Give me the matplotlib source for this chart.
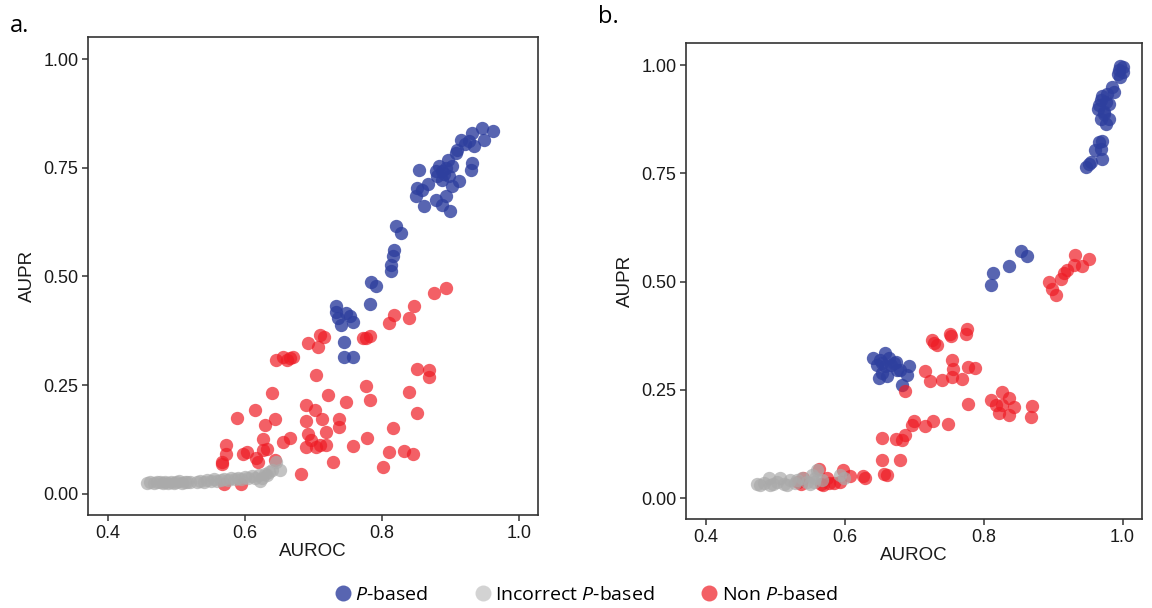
import numpy as np
import matplotlib
matplotlib.use("Agg")
import matplotlib.pyplot as plt
from matplotlib.lines import Line2D

plt.rcParams['font.family'] = ['Liberation Sans', 'DejaVu Sans']
plt.rcParams['mathtext.fontset'] = 'custom'
plt.rcParams['mathtext.rm'] = 'Open Sans'
plt.rcParams['mathtext.it'] = 'Open Sans:italic'

# ---- panel a ----
a_p_auroc = [0.946, 0.963, 0.932, 0.915, 0.949, 0.927, 0.934, 0.910, 0.908, 0.922,
             0.896, 0.884, 0.903, 0.888, 0.879, 0.898, 0.888, 0.913, 0.932, 0.930,
             0.854, 0.852, 0.867, 0.859, 0.903, 0.850, 0.893, 0.879, 0.888, 0.862,
             0.900, 0.893, 0.891, 0.881,
             0.821, 0.828, 0.818, 0.817, 0.813, 0.813, 0.784, 0.791, 0.782, 0.733,
             0.748, 0.753, 0.736, 0.758, 0.741, 0.745, 0.745, 0.758, 0.733]
a_p_aupr = [0.842, 0.835, 0.831, 0.815, 0.815, 0.812, 0.800, 0.792, 0.785, 0.804,
            0.769, 0.754, 0.754, 0.742, 0.742, 0.731, 0.723, 0.719, 0.762, 0.746,
            0.746, 0.704, 0.712, 0.700, 0.708, 0.685, 0.685, 0.677, 0.665, 0.662,
            0.650, 0.750, 0.735, 0.731,
            0.617, 0.600, 0.562, 0.546, 0.527, 0.512, 0.488, 0.477, 0.437, 0.431,
            0.415, 0.408, 0.404, 0.396, 0.388, 0.350, 0.315, 0.315, 0.419]

a_np_auroc = [0.893, 0.876, 0.847, 0.818, 0.811, 0.839, 0.772, 0.782, 0.777, 0.692,
              0.709, 0.716, 0.707, 0.646, 0.656, 0.666, 0.670, 0.661, 0.704, 0.852,
              0.869, 0.869, 0.777, 0.721, 0.748, 0.782, 0.640, 0.615, 0.588, 0.690,
              0.702, 0.644, 0.629, 0.690, 0.712, 0.737, 0.738, 0.839, 0.851, 0.817,
              0.627, 0.692, 0.719, 0.666, 0.656, 0.779, 0.572, 0.573, 0.598, 0.603,
              0.627, 0.632, 0.697, 0.704, 0.709, 0.719, 0.690, 0.758, 0.811, 0.833,
              0.845, 0.566, 0.566, 0.617, 0.619, 0.644, 0.728, 0.801, 0.682, 0.569,
              0.595]
a_np_aupr = [0.473, 0.463, 0.432, 0.412, 0.392, 0.404, 0.358, 0.362, 0.358, 0.346,
             0.365, 0.360, 0.338, 0.308, 0.315, 0.312, 0.315, 0.308, 0.273, 0.288,
             0.285, 0.269, 0.248, 0.227, 0.212, 0.215, 0.231, 0.192, 0.175, 0.204,
             0.192, 0.171, 0.158, 0.168, 0.173, 0.173, 0.154, 0.233, 0.185, 0.151,
             0.125, 0.138, 0.142, 0.129, 0.119, 0.129, 0.112, 0.092, 0.092, 0.096,
             0.100, 0.104, 0.123, 0.108, 0.112, 0.112, 0.108, 0.109, 0.096, 0.098,
             0.091, 0.073, 0.069, 0.081, 0.073, 0.077, 0.073, 0.062, 0.045, 0.023,
             0.022]

a_ip_auroc = [0.457, 0.462, 0.467, 0.472, 0.476, 0.480, 0.484, 0.488, 0.492, 0.496,
              0.500, 0.504, 0.508, 0.512, 0.516, 0.520, 0.530, 0.535, 0.540, 0.545,
              0.550, 0.555, 0.560, 0.565, 0.570, 0.575, 0.580, 0.585, 0.590, 0.595,
              0.600, 0.605, 0.610, 0.615, 0.620, 0.625, 0.630, 0.635, 0.640, 0.651,
              0.646, 0.622, 0.632]
a_ip_aupr = [0.025, 0.027, 0.024, 0.026, 0.028, 0.024, 0.027, 0.025, 0.028, 0.024,
             0.026, 0.029, 0.025, 0.027, 0.026, 0.028, 0.027, 0.030, 0.028, 0.031,
             0.029, 0.033, 0.030, 0.032, 0.034, 0.031, 0.035, 0.033, 0.036, 0.034,
             0.038, 0.036, 0.040, 0.037, 0.042, 0.035, 0.045, 0.050, 0.055, 0.054,
             0.072, 0.030, 0.042]

# ---- panel b ----
b_p_auroc = [0.997, 1.000, 0.995, 1.000, 0.997, 0.993, 0.985, 0.988, 0.978, 0.971,
             0.969, 0.976, 0.966, 0.981, 0.964, 0.973, 0.969, 0.981, 0.976, 0.973,
             0.971, 0.966, 0.969, 0.961, 0.971, 0.954, 0.947, 0.952,
             0.853, 0.862, 0.836, 0.814, 0.811,
             0.641, 0.657, 0.651, 0.663, 0.673, 0.646, 0.658, 0.666, 0.675, 0.692,
             0.680, 0.653, 0.661, 0.649, 0.690, 0.682, 0.670, 0.653]
b_p_aupr = [0.999, 0.995, 0.989, 0.984, 0.972, 0.980, 0.949, 0.938, 0.934, 0.930,
            0.919, 0.915, 0.907, 0.911, 0.899, 0.892, 0.876, 0.876, 0.865, 0.888,
            0.826, 0.822, 0.807, 0.803, 0.784, 0.776, 0.765, 0.772,
            0.571, 0.559, 0.537, 0.520, 0.492,
            0.323, 0.334, 0.319, 0.323, 0.315, 0.307, 0.304, 0.307, 0.296, 0.304,
            0.296, 0.288, 0.281, 0.277, 0.284, 0.261, 0.311, 0.311]

b_np_auroc = [0.932, 0.952, 0.930, 0.942, 0.920, 0.916, 0.911, 0.894, 0.899, 0.904,
              0.776, 0.751, 0.753, 0.726, 0.728, 0.733, 0.774,
              0.754, 0.716, 0.755, 0.777, 0.788, 0.723, 0.740, 0.754, 0.769, 0.687,
              0.827, 0.810, 0.836, 0.817, 0.843, 0.822, 0.836, 0.870, 0.868, 0.777,
              0.827,
              0.699, 0.697, 0.715, 0.727, 0.748, 0.653, 0.674, 0.682, 0.686, 0.653,
              0.679, 0.656, 0.660,
              0.562, 0.597, 0.607, 0.626, 0.629, 0.574, 0.577, 0.569, 0.584, 0.593,
              0.540, 0.533, 0.536, 0.565]
b_np_aupr = [0.561, 0.553, 0.538, 0.536, 0.527, 0.520, 0.507, 0.500, 0.484, 0.469,
             0.390, 0.379, 0.374, 0.365, 0.359, 0.354, 0.380,
             0.319, 0.294, 0.297, 0.302, 0.300, 0.271, 0.273, 0.279, 0.274, 0.248,
             0.244, 0.227, 0.231, 0.215, 0.211, 0.196, 0.192, 0.213, 0.188, 0.218,
             0.215,
             0.179, 0.169, 0.167, 0.179, 0.171, 0.138, 0.136, 0.135, 0.146, 0.087,
             0.087, 0.056, 0.054,
             0.067, 0.065, 0.050, 0.051, 0.046, 0.046, 0.035, 0.031, 0.035, 0.038,
             0.046, 0.036, 0.033, 0.033]

b_ip_auroc = [0.473, 0.483, 0.490, 0.492, 0.502, 0.507, 0.512, 0.521, 0.528, 0.538,
              0.545, 0.552, 0.557, 0.560, 0.567, 0.593, 0.598, 0.478, 0.497, 0.516,
              0.531, 0.550, 0.555]
b_ip_aupr = [0.033, 0.035, 0.046, 0.031, 0.038, 0.046, 0.033, 0.042, 0.035, 0.046,
             0.038, 0.054, 0.046, 0.065, 0.042, 0.054, 0.046, 0.031, 0.033, 0.031,
             0.041, 0.033, 0.038]

blue = '#2E3F9E'
red = '#EE1C25'
grey = '#AAAAAA'

fig = plt.figure(figsize=(11.52, 6.08), dpi=100)
ax_a = fig.add_axes([0.0764, 0.153, 0.3906, 0.786])
ax_b = fig.add_axes([0.5955, 0.146, 0.3958, 0.783])

panels = [
    (ax_a, a_p_auroc, a_p_aupr, a_np_auroc, a_np_aupr, a_ip_auroc, a_ip_aupr),
    (ax_b, b_p_auroc, b_p_aupr, b_np_auroc, b_np_aupr, b_ip_auroc, b_ip_aupr),
]

for ax, px, py, nx, ny, ix, iy in panels:
    ax.scatter(px, py, s=92, color=blue, alpha=0.8, linewidths=0)
    ax.scatter(nx, ny, s=92, color=red, alpha=0.7, linewidths=0)
    ax.scatter(ix, iy, s=92, color=grey, alpha=0.7, linewidths=0)
    ax.set_xlim(0.371, 1.028)
    ax.set_ylim(-0.049, 1.051)
    ax.set_xticks([0.4, 0.6, 0.8, 1.0])
    ax.set_xticklabels(['0.4', '0.6', '0.8', '1.0'])
    ax.set_yticks([0, 0.25, 0.5, 0.75, 1.0])
    ax.set_yticklabels(['0.00', '0.25', '0.50', '0.75', '1.00'])
    for sp in ax.spines.values():
        sp.set_color('#333333')
        sp.set_linewidth(1.2)
    ax.tick_params(direction='out', length=4, width=1.1, color='#333333',
                   labelsize=13, labelcolor='#1a1a1a', pad=3)
    ax.set_xlabel('AUROC', fontsize=13.5, labelpad=1, color='#1a1a1a')
    ax.set_ylabel('AUPR', fontsize=13.5, labelpad=5, color='#1a1a1a')

fig.text(0.009, 0.958, 'a.', fontsize=17, family='Open Sans', va='center')
fig.text(0.519, 0.972, 'b.', fontsize=17, family='Open Sans', va='center')

handles = [
    Line2D([], [], marker='o', linestyle='', markersize=11.5, color=blue, alpha=0.8,
           markeredgewidth=0, label=r'$\it{P}$-based'),
    Line2D([], [], marker='o', linestyle='', markersize=11.5, color='#C8C8C8', alpha=0.8,
           markeredgewidth=0, label=r'Incorrect $\it{P}$-based'),
    Line2D([], [], marker='o', linestyle='', markersize=11.5, color=red, alpha=0.7,
           markeredgewidth=0, label=r'Non $\it{P}$-based'),
]
fig.legend(handles=handles, loc='center', bbox_to_anchor=(0.509, 0.021), ncol=3,
           frameon=False, prop={'family': 'Open Sans', 'size': 14},
           handlelength=0.8, handletextpad=0.25, columnspacing=2.4, borderaxespad=0)

fig.savefig('out.png', dpi=100)
